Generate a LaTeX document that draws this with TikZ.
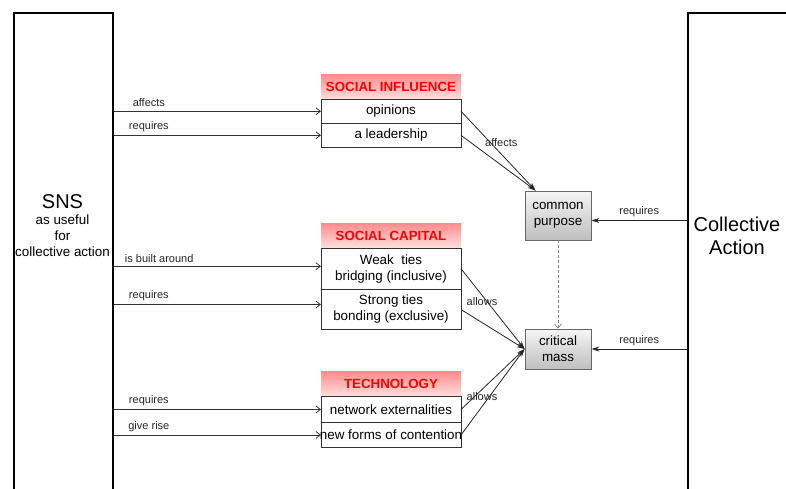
\documentclass[tikz,border=0pt]{standalone}
\usepackage{fontspec}
\setmainfont{Liberation Sans}
\usetikzlibrary{arrows.meta,positioning,shadows}
\definecolor{linegray}{HTML}{333333}
\tikzset{
    big box/.style={draw=black, line width=1.6pt, minimum width=99pt, minimum height=520pt, inner sep=0pt},
    head color/.style={top color=red!45, bottom color=red!12},
    group head/.style={head color, text=red, font=\fontsize{13.3}{16}\selectfont\bfseries, minimum width=140pt, minimum height=25pt, inner sep=0pt, outer sep=0pt},
    group row/.style={draw=linegray, line width=0.9pt, fill=white, minimum width=140pt, inner sep=0pt, outer sep=0pt, align=center},
    concept box/.style={draw=black!60, line width=0.9pt, top color=gray!8, bottom color=gray!50, minimum width=66pt, inner sep=0pt, align=center, drop shadow={shadow xshift=1.2pt, shadow yshift=-1.2pt, opacity=.5, fill=black!60}},
    arr/.style={-{Straight Barb[length=4.5pt,width=7pt]}, draw=linegray, line width=0.8pt},
    farr/.style={-{Stealth[length=8pt,width=5pt]}, draw=black!85, line width=0.8pt},
    darr/.style={-{Straight Barb[length=4pt,width=7pt]}, draw=gray, densely dashed, line width=0.7pt},
    small label/.style={font=\fontsize{11}{13}\selectfont, text=black!85, inner sep=1pt},
}
\tikzstyle{every node}=[font=\fontsize{13.4}{16}\selectfont]

\begin{document}
\begin{tikzpicture}[x=1pt,y=-1pt]
    \clip (0,0) rectangle (786,489);
    % the two outer blocks
    \node[big box, anchor=north west] (sns) at (13,12) {};
    \node[big box, anchor=north west, minimum width=130pt] (ca) at (687,12) {};
    \node[align=center] (snstext) at (62.5,226) {{\fontsize{20}{22}\selectfont SNS}\\as useful\\for\\collective action};
    \node[align=center, font=\fontsize{20}{23}\selectfont] (catext) at (737,236) {Collective\\Action};

    % social influence
    \node[group head] (infl) at (391,86.8) {SOCIAL INFLUENCE};
    \node[group row, minimum height=24pt, below=0pt of infl] (opin) {opinions};
    \node[group row, minimum height=24pt, below=0pt of opin] (lead) {a leadership};

    % social capital
    \node[group head] (capital) at (391,235.8) {SOCIAL CAPITAL};
    \node[group row, minimum height=40.8pt, below=0pt of capital] (weak) {Weak~ ties\\bridging (inclusive)};
    \node[group row, minimum height=40.8pt, below=0pt of weak] (strong) {Strong ties\\bonding (exclusive)};

    % technology
    \node[group head] (tech) at (391,384.2) {TECHNOLOGY};
    \node[group row, minimum height=25.5pt, below=0pt of tech] (netx) {network externalities};
    \node[group row, minimum height=25.5pt, below=0pt of netx] (forms) {\makebox[140pt]{new forms of contention}};

    % concepts
    \node[concept box, minimum height=49pt] (purpose) at (558,215.5) {common\\purpose};
    \node[concept box, minimum height=40pt] (mass) at (558,349) {critical\\mass};

    % from SNS
    \coordinate (weak in) at ([yshift=2.5pt]weak.west);
    \coordinate (strong in) at ([yshift=5pt]strong.west);
    \draw[arr] (sns.east |- opin.west) -- node[small label, pos=.17, above=3pt] {affects} (opin.west);
    \draw[arr] (sns.east |- lead.west) -- node[small label, pos=.17, above=2pt] {requires} (lead.west);
    \draw[arr] (sns.east |- weak in) -- node[small label, pos=.22, above=2pt] {is built around} (weak in);
    \draw[arr] (sns.east |- strong in) -- node[small label, pos=.17, above=2pt] {requires} (strong in);
    \draw[arr] (sns.east |- netx.west) -- node[small label, pos=.17, above=2pt] {requires} (netx.west);
    \draw[arr] (sns.east |- forms.west) -- node[small label, pos=.17, above=2pt] {give rise} (forms.west);

    % into the concepts
    \coordinate (purpose in) at ([xshift=11pt]purpose.north west);
    \draw[farr] (opin.east) -- node[small label, pos=.5, xshift=3pt, yshift=8pt] {affects} (purpose in);
    \draw[farr] (lead.east) -- (purpose in);
    \draw[farr] (weak.east) -- node[small label, pos=.33, yshift=-6pt] {allows} (mass.west);
    \draw[farr] (strong.east) -- (mass.west);
    \draw[farr] (netx.east) -- node[small label, pos=.33, yshift=-7pt] {allows} (mass.west);
    \draw[farr] (forms.east) -- (mass.west);
    \draw[darr] (purpose.south) -- (mass.north);

    % from collective action
    \coordinate (purpose req) at ([yshift=-5pt]purpose.east);
    \draw[farr] (ca.west |- purpose req) -- node[small label, above=2pt] {requires} (purpose req);
    \draw[farr] (ca.west |- mass.east) -- node[small label, above=2pt] {requires} (mass.east);
\end{tikzpicture}
\end{document}
